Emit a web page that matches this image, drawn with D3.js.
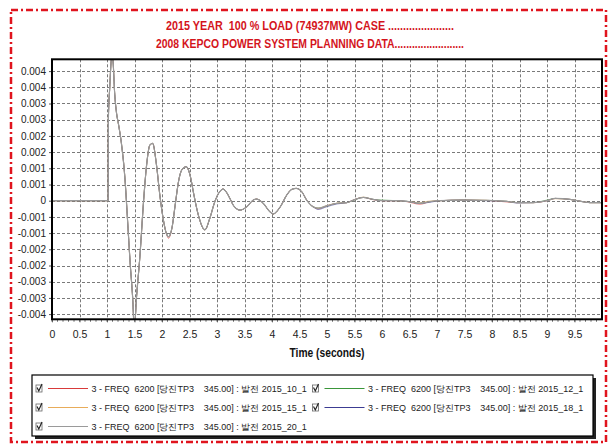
<!DOCTYPE html>
<html><head><meta charset="utf-8">
<script src="https://cdn.jsdelivr.net/npm/d3@7"></script>
<style>
html,body{margin:0;padding:0;background:#fff;}
svg{display:block;}
text{white-space:pre;}
</style></head>
<body>
<svg id="chart" width="610" height="444"></svg>
<script>
const titleLines = ["2015 YEAR  100 % LOAD (74937MW) CASE ......................",
                    "2008 KEPCO POWER SYSTEM PLANNING DATA........................"];
const xLabel = "Time (seconds)";
const xTicks = [0,0.5,1,1.5,2,2.5,3,3.5,4,4.5,5,5.5,6,6.5,7,7.5,8,8.5,9,9.5];
const xTickLabels = ["0","0.5","1","1.5","2","2.5","3","3.5","4","4.5","5","5.5","6","6.5","7","7.5","8","8.5","9","9.5"];
const yTicks = [0.004,0.0035,0.003,0.0025,0.002,0.0015,0.001,0.0005,0,-0.0005,-0.001,-0.0015,-0.002,-0.0025,-0.003,-0.0035];
const yTickLabels = ["0.004","0.004","0.003","0.003","0.002","0.002","0.001","0.001","0","-0.001","-0.001","-0.002","-0.002","-0.003","-0.003","-0.004"];

// time (s)
const times = [0,1.0,1.02,1.025,1.05,1.09,1.11,1.14,1.17,1.21,
  1.26,1.33,1.37,1.42,1.47,1.495,1.54,1.60,1.66,1.72,
  1.78,1.83,1.90,1.96,2.02,2.07,2.12,2.18,2.24,2.30,
  2.36,2.44,2.51,2.58,2.66,2.78,2.87,2.96,3.05,3.11,
  3.18,3.24,3.30,3.42,3.54,3.66,3.72,3.84,3.96,4.02,
  4.15,4.27,4.36,4.44,4.54,4.63,4.75,4.84,4.99,5.18,
  5.36,5.48,5.66,5.84,6.02,6.27,6.45,6.69,6.87,7.05,
  7.47,7.9,8.27,8.45,8.75,9.0,9.15,9.42,9.65,9.78,10.0];
// frequency deviation values, in units of 0.001
const freq10 = [0,0,0,2.5,3.5,4.5,4.3,3.3,2.75,2.35,
  1.8,0.6,-0.5,-1.9,-3.1,-3.95,-2.9,-1.68,-0.13,1.10,
  1.72,1.77,1.10,0.18,-0.54,-0.96,-1.16,-0.85,-0.13,0.59,
  0.95,1.05,0.79,0.18,-0.44,-0.90,-0.54,-0.03,0.28,0.36,
  0.24,0.05,-0.15,-0.29,-0.19,0.02,0.05,-0.08,-0.34,-0.41,
  -0.19,0.18,0.35,0.38,0.28,0.02,-0.19,-0.25,-0.16,-0.08,
  -0.06,0.02,0.10,0.03,0.0,0.0,-0.03,-0.11,-0.03,0.0,
  0.02,0.01,-0.04,-0.06,-0.06,0.0,0.07,0.04,-0.03,-0.06,-0.06];
const freq12 = [0,0,0,2.5,3.5,4.5,4.3,3.3,2.75,2.35,
  1.8,0.6,-0.5,-1.9,-3.1,-3.95,-2.9,-1.68,-0.13,1.10,
  1.72,1.77,1.10,0.18,-0.54,-0.96,-1.11,-0.85,-0.13,0.59,
  0.95,1.05,0.79,0.18,-0.44,-0.90,-0.54,-0.03,0.28,0.36,
  0.24,0.05,-0.15,-0.29,-0.19,0.02,0.05,-0.08,-0.34,-0.41,
  -0.19,0.18,0.35,0.38,0.28,0.02,-0.19,-0.23,-0.17,-0.08,
  -0.06,0.01,0.10,0.04,0.02,0.0,-0.02,-0.08,-0.03,0.0,
  0.02,0.01,-0.02,-0.06,-0.06,0.02,0.07,0.04,-0.03,-0.06,-0.06];
const freq15 = [0,0,0,2.5,3.5,4.5,4.3,3.3,2.75,2.35,
  1.8,0.6,-0.5,-1.9,-3.1,-3.95,-2.9,-1.68,-0.13,1.10,
  1.72,1.77,1.10,0.18,-0.54,-0.96,-1.11,-0.85,-0.13,0.59,
  0.95,1.05,0.79,0.18,-0.44,-0.90,-0.54,-0.03,0.28,0.36,
  0.24,0.05,-0.15,-0.29,-0.19,0.02,0.05,-0.08,-0.34,-0.41,
  -0.19,0.18,0.35,0.38,0.28,0.02,-0.19,-0.23,-0.16,-0.08,
  -0.06,0.02,0.11,0.04,0.0,0.0,-0.02,-0.06,-0.01,0.0,
  0.02,0.01,-0.02,-0.06,-0.06,0.0,0.06,0.04,-0.03,-0.06,-0.06];
const freq18 = [0,0,0,2.5,3.5,4.5,4.3,3.3,2.75,2.35,
  1.8,0.6,-0.5,-1.9,-3.1,-3.95,-2.9,-1.68,-0.13,1.10,
  1.72,1.77,1.10,0.18,-0.54,-0.96,-1.11,-0.85,-0.13,0.59,
  0.95,1.05,0.79,0.18,-0.44,-0.90,-0.54,-0.03,0.28,0.36,
  0.24,0.05,-0.15,-0.29,-0.19,0.02,0.05,-0.08,-0.34,-0.41,
  -0.19,0.18,0.35,0.38,0.28,0.02,-0.19,-0.27,-0.19,-0.10,
  -0.06,0.02,0.10,0.04,0.0,0.0,-0.02,-0.08,-0.05,0.0,
  0.02,0.0,-0.02,-0.07,-0.06,0.0,0.07,0.04,-0.03,-0.06,-0.06];
const freq20 = [0,0,0,2.5,3.5,4.5,4.3,3.3,2.75,2.35,
  1.8,0.6,-0.5,-1.9,-3.1,-3.95,-2.9,-1.68,-0.13,1.10,
  1.72,1.77,1.10,0.18,-0.54,-0.96,-1.11,-0.85,-0.13,0.59,
  0.95,1.05,0.79,0.18,-0.44,-0.90,-0.54,-0.03,0.28,0.36,
  0.24,0.05,-0.15,-0.29,-0.19,0.02,0.05,-0.08,-0.34,-0.41,
  -0.19,0.18,0.35,0.38,0.28,0.02,-0.19,-0.23,-0.16,-0.08,
  -0.06,0.02,0.10,0.04,0.0,0.0,-0.02,-0.08,-0.03,0.0,
  0.02,0.01,-0.02,-0.06,-0.06,0.0,0.07,0.04,-0.03,-0.06,-0.06];
const UNIT = 0.001;

const seriesNames = [
  "3 - FREQ  6200 [당진TP3    345.00] : 발전 2015_10_1",
  "3 - FREQ  6200 [당진TP3    345.00] : 발전 2015_12_1",
  "3 - FREQ  6200 [당진TP3    345.00] : 발전 2015_15_1",
  "3 - FREQ  6200 [당진TP3    345.00] : 발전 2015_18_1",
  "3 - FREQ  6200 [당진TP3    345.00] : 발전 2015_20_1"];
const seriesValues = [freq10, freq12, freq15, freq18, freq20];
const seriesColors = ["#d83a3a","#3a963a","#e8ac5a","#3c3c92","#9a9a9a"];

const svg = d3.select("#chart");
const FONT = "'Liberation Sans Narrow','Arial Narrow','Liberation Sans',Arial,sans-serif";

// outer dash-dot border
svg.append("rect").attr("x",11).attr("y",10).attr("width",595).attr("height",432)
  .attr("fill","none").attr("stroke","#e0141e").attr("stroke-width",2.5)
  .attr("stroke-dasharray","7,3,2,3");

// title
const titleWidths = [288, 308];
svg.append("g").selectAll("text").data(titleLines).join("text")
  .attr("x",310).attr("y",(d,i)=>30+i*17.5).attr("text-anchor","middle")
  .attr("font-family",FONT).attr("font-weight","bold").attr("font-size",13)
  .attr("textLength",(d,i)=>titleWidths[i]).attr("lengthAdjust","spacingAndGlyphs")
  .attr("fill","#d4141c").text(d=>d);

const L=52, R=602, T=59.3, B=319.3;
const x = d3.scaleLinear().domain([0,10]).range([L,R]);
const y = d3.scaleLinear().domain([-0.0035,0.004]).range([314.1,71.1]);

// grid
const grid = svg.append("g").attr("stroke","#7a7a7a").attr("stroke-width",1).attr("stroke-dasharray","3,2");
grid.selectAll("line.v").data(xTicks.filter(d=>d>0)).join("line")
  .attr("x1",d=>Math.round(x(d))+0.5).attr("x2",d=>Math.round(x(d))+0.5).attr("y1",T).attr("y2",B);
grid.selectAll("line.h").data(yTicks).join("line")
  .attr("y1",d=>Math.round(y(d))+0.5).attr("y2",d=>Math.round(y(d))+0.5).attr("x1",L).attr("x2",R);

// lines
svg.append("clipPath").attr("id","clip").append("rect").attr("x",L).attr("y",T).attr("width",R-L).attr("height",B-T);
const line = d3.line().x((d,i)=>x(times[i])).y(d=>y(d*UNIT)).curve(d3.curveMonotoneX);
svg.append("g").attr("clip-path","url(#clip)").selectAll("path").data(seriesValues).join("path")
  .attr("d",d=>line(d)).attr("fill","none").attr("stroke",(d,i)=>seriesColors[i])
  .attr("stroke-width",(d,i)=>i===4?1.2:0.6);

// axes
const xAxis = d3.axisBottom(x).tickValues(xTicks).tickFormat((d,i)=>xTickLabels[i]).tickSize(3).tickPadding(8);
const gx = svg.append("g").attr("transform",`translate(0,${B})`).call(xAxis);
gx.select(".domain").remove();
gx.selectAll("text").attr("font-family",FONT).attr("font-size",10.5).attr("fill","#222");
gx.selectAll("line").attr("stroke","#555");
// minor ticks
svg.append("g").selectAll("line").data(d3.range(0,100).map(i=>i/10)).join("line")
  .attr("x1",d=>x(d)).attr("x2",d=>x(d)).attr("y1",B).attr("y2",B+2.5).attr("stroke","#777");

const yAxis = d3.axisLeft(y).tickValues(yTicks).tickFormat((d,i)=>yTickLabels[i]).tickSize(3).tickPadding(3);
const gy = svg.append("g").attr("transform",`translate(${L},0)`).call(yAxis);
gy.select(".domain").remove();
gy.selectAll("text").attr("font-family",FONT).attr("font-size",10).attr("fill","#222");
gy.selectAll("line").attr("stroke","#555");

// plot frame
svg.append("rect").attr("x",L).attr("y",T).attr("width",R-L).attr("height",B-T)
  .attr("fill","none").attr("stroke","#000").attr("stroke-width",2);

svg.append("text").attr("x",(L+R)/2).attr("y",357).attr("text-anchor","middle")
  .attr("font-family",FONT).attr("font-weight","bold").attr("font-size",13.5)
  .attr("textLength",75).attr("lengthAdjust","spacingAndGlyphs")
  .attr("fill","#111").text(xLabel);

// legend
const lg = svg.append("g");
lg.append("rect").attr("x",35).attr("y",378).attr("width",561).attr("height",61).attr("fill","#222");
lg.append("rect").attr("x",32).attr("y",375).attr("width",561).attr("height",61).attr("fill","#fff").attr("stroke","#000").attr("stroke-width",1.2);
const colX = [36, 312.5];
const items = lg.selectAll("g.item").data(seriesNames).join("g")
  .attr("transform",(d,i)=>`translate(${colX[i%2]},${388.5+Math.floor(i/2)*19})`);
items.append("rect").attr("x",0).attr("y",-3.5).attr("width",6).attr("height",7).attr("fill","#fff").attr("stroke","#666").attr("stroke-width",0.8);
items.append("path").attr("d","M1,-1 L2.8,2.5 L6,-4.5").attr("fill","none").attr("stroke","#222").attr("stroke-width",1.2);
items.append("line").attr("x1",12).attr("x2",52).attr("y1",0).attr("y2",0)
  .attr("stroke",(d,i)=>seriesColors[i]).attr("stroke-width",1.2);
const legTexts = items.append("text").attr("x",55.5).attr("y",3.5).attr("font-family",FONT).attr("font-size",10.5)
  .attr("fill","#222").text(d=>d);
// fit each legend label to the width it takes in the reference
legTexts.each(function(){
  const w = this.getComputedTextLength();
  const target = 217;
  if (w > target) d3.select(this).attr("font-size", (10.5*target/w).toFixed(2));
});
</script>
</body></html>
